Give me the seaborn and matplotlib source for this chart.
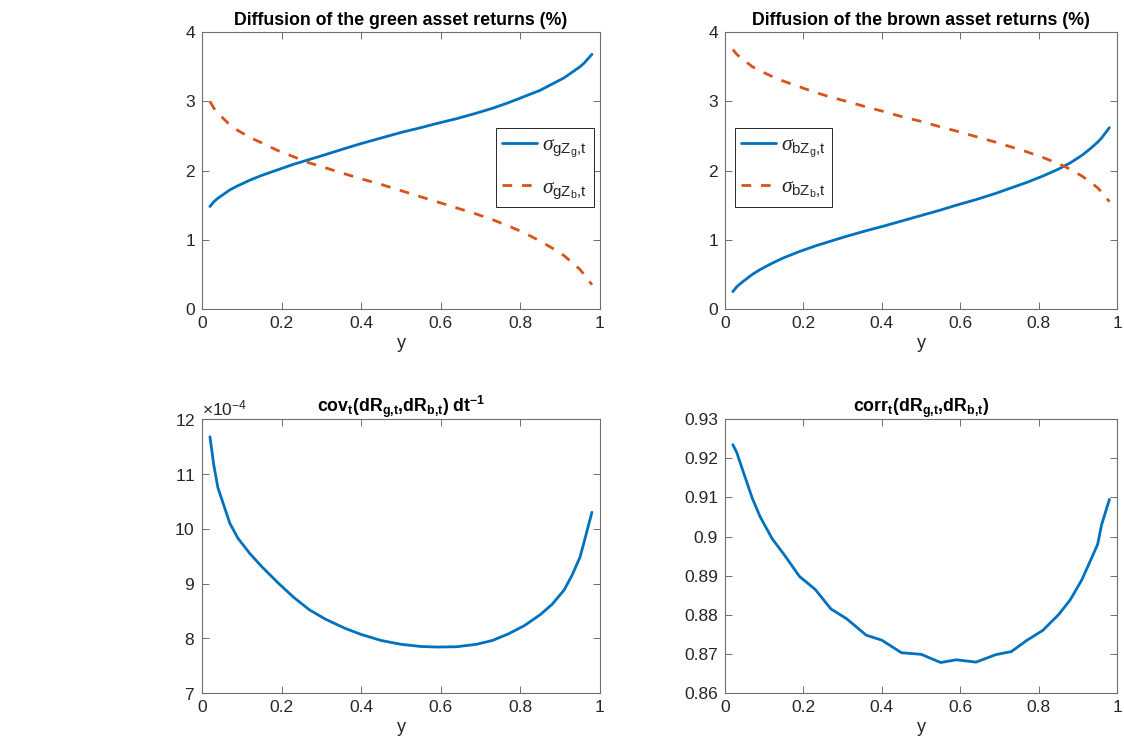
import numpy as np
import pandas as pd
import matplotlib
matplotlib.use("Agg")
import matplotlib.pyplot as plt
from matplotlib.ticker import FuncFormatter, MultipleLocator, ScalarFormatter
import seaborn as sns

# State grid (share of green wealth)
y_grid = [0.02, 0.03, 0.04, 0.07, 0.09, 0.12, 0.15, 0.19, 0.23, 0.27, 0.31, 0.36, 0.40, 0.45,
          0.50, 0.55, 0.59, 0.64, 0.69, 0.73, 0.77, 0.81, 0.85, 0.88, 0.91, 0.93, 0.95, 0.96, 0.98]

# Diffusion loadings of the green asset (%)
sig_g_Zg = [1.48, 1.55, 1.60, 1.72, 1.78, 1.86, 1.93, 2.01, 2.09, 2.16, 2.23, 2.32, 2.39, 2.47,
            2.55, 2.62, 2.68, 2.75, 2.83, 2.90, 2.98, 3.07, 3.16, 3.25, 3.34, 3.42, 3.50, 3.55, 3.68]
sig_g_Zb = [3.00, 2.90, 2.83, 2.66, 2.58, 2.48, 2.40, 2.29, 2.20, 2.11, 2.04, 1.95, 1.88, 1.80,
            1.71, 1.62, 1.55, 1.46, 1.37, 1.29, 1.20, 1.10, 0.98, 0.88, 0.77, 0.67, 0.57, 0.50, 0.35]

# Diffusion loadings of the brown asset (%)
sig_b_Zg = [0.25, 0.32, 0.37, 0.50, 0.57, 0.66, 0.74, 0.83, 0.91, 0.98, 1.05, 1.13, 1.19, 1.27,
            1.35, 1.43, 1.50, 1.58, 1.67, 1.75, 1.83, 1.92, 2.02, 2.11, 2.22, 2.31, 2.41, 2.47, 2.62]
sig_b_Zb = [3.75, 3.68, 3.63, 3.50, 3.44, 3.36, 3.29, 3.21, 3.13, 3.06, 3.00, 2.92, 2.86, 2.78,
            2.71, 2.63, 2.57, 2.49, 2.41, 2.34, 2.27, 2.19, 2.10, 2.02, 1.92, 1.84, 1.75, 1.69, 1.55]

# Instantaneous covariance and correlation of returns
cov_gb = [11.68e-4, 11.15e-4, 10.75e-4, 10.10e-4, 9.83e-4, 9.55e-4, 9.31e-4, 9.02e-4, 8.75e-4,
          8.52e-4, 8.35e-4, 8.18e-4, 8.07e-4, 7.96e-4, 7.89e-4, 7.85e-4, 7.84e-4, 7.845e-4,
          7.89e-4, 7.96e-4, 8.08e-4, 8.23e-4, 8.43e-4, 8.62e-4, 8.88e-4, 9.15e-4, 9.48e-4,
          9.75e-4, 10.30e-4]
corr_gb = [0.9235, 0.9215, 0.9185, 0.9097, 0.9050, 0.8995, 0.8955, 0.8898, 0.8865, 0.8815,
           0.8790, 0.8748, 0.8735, 0.8703, 0.8699, 0.8678, 0.8685, 0.8679, 0.8698, 0.8706,
           0.8735, 0.8760, 0.8800, 0.8838, 0.8890, 0.8935, 0.8980, 0.9030, 0.9095]

x_ticks = [0, 0.2, 0.4, 0.6, 0.8, 1]

sns.set_theme(style="white")
plt.rcParams["font.family"] = ["Liberation Sans", "DejaVu Sans"]
plt.rcParams["mathtext.fontset"] = "custom"
plt.rcParams["mathtext.rm"] = "Liberation Sans"
plt.rcParams["mathtext.it"] = "Liberation Serif:italic"
plt.rcParams["mathtext.bf"] = "Liberation Sans:bold"

BLUE = "#0072BD"
ORANGE = "#D95319"
AXC = "#262626"
TITLE_FS = 12.8

fig = plt.figure(figsize=(11.24, 7.48), dpi=100)
ax_tl = fig.add_axes([0.1797, 0.587, 0.354, 0.370])
ax_tr = fig.add_axes([0.645, 0.587, 0.349, 0.370])
ax_bl = fig.add_axes([0.1797, 0.0735, 0.354, 0.366])
ax_br = fig.add_axes([0.645, 0.0735, 0.349, 0.366])

gfmt = FuncFormatter(lambda v, p: f"{v:g}")


def style_axes(ax):
    ax.set_xlim(0, 1)
    ax.set_xticks(x_ticks)
    ax.xaxis.set_major_formatter(gfmt)
    for s in ax.spines.values():
        s.set_visible(True)
        s.set_color("#6e6e6e")
        s.set_linewidth(0.8)
    ax.tick_params(axis="both", which="major", direction="in", length=5, width=0.7,
                   color="#6e6e6e", labelsize=12.5, labelcolor=AXC,
                   top=True, right=True, bottom=True, left=True, pad=5)
    ax.set_xlabel("y", fontsize=13, color=AXC, labelpad=3)
    ax.set_ylabel("")
    ax.grid(False)


def legend(ax, anchor):
    leg = ax.legend(loc="upper left", bbox_to_anchor=anchor, fontsize=15.5,
                    frameon=True, fancybox=False, framealpha=1, edgecolor=AXC,
                    handlelength=1.6, handletextpad=0.25, borderpad=0.3,
                    labelspacing=0.75, borderaxespad=0)
    leg.get_frame().set_linewidth(0.7)


# Green asset diffusion
df_g = pd.DataFrame({"y": y_grid, "zg": sig_g_Zg, "zb": sig_g_Zb})
sns.lineplot(data=df_g, x="y", y="zg", ax=ax_tl, color=BLUE, linewidth=2,
             label=r"$\sigma_{\mathrm{gZ_g{,}t}}$")
sns.lineplot(data=df_g, x="y", y="zb", ax=ax_tl, color=ORANGE, linewidth=2,
             linestyle=(0, (3.5, 3.5)), label=r"$\sigma_{\mathrm{gZ_b{,}t}}$")
ax_tl.set_ylim(0, 4)
ax_tl.set_yticks([0, 1, 2, 3, 4])
ax_tl.yaxis.set_major_formatter(gfmt)
ax_tl.set_title("Diffusion of the green asset returns (%)", fontsize=TITLE_FS,
                fontweight="bold", color="black", pad=5)
style_axes(ax_tl)
legend(ax_tl, (0.739, 0.652))

# Brown asset diffusion
df_b = pd.DataFrame({"y": y_grid, "zg": sig_b_Zg, "zb": sig_b_Zb})
sns.lineplot(data=df_b, x="y", y="zg", ax=ax_tr, color=BLUE, linewidth=2,
             label=r"$\sigma_{\mathrm{bZ_g{,}t}}$")
sns.lineplot(data=df_b, x="y", y="zb", ax=ax_tr, color=ORANGE, linewidth=2,
             linestyle=(0, (3.5, 3.5)), label=r"$\sigma_{\mathrm{bZ_b{,}t}}$")
ax_tr.set_ylim(0, 4)
ax_tr.set_yticks([0, 1, 2, 3, 4])
ax_tr.yaxis.set_major_formatter(gfmt)
ax_tr.set_title("Diffusion of the brown asset returns (%)", fontsize=TITLE_FS,
                fontweight="bold", color="black", pad=5)
style_axes(ax_tr)
legend(ax_tr, (0.025, 0.652))

# Covariance (axis scaled by 1e-4)
df_c = pd.DataFrame({"y": y_grid, "cov": cov_gb, "corr": corr_gb})
sns.lineplot(data=df_c, x="y", y="cov", ax=ax_bl, color=BLUE, linewidth=2)
ax_bl.set_ylim(7e-4, 12e-4)
ax_bl.set_yticks([7e-4, 8e-4, 9e-4, 10e-4, 11e-4, 12e-4])
sfmt = ScalarFormatter(useMathText=True)
sfmt.set_powerlimits((-4, -4))
ax_bl.yaxis.set_major_formatter(sfmt)
ax_bl.set_title(r"$\mathbf{cov_t(dR_{g{,}t}{,}dR_{b{,}t})\ dt^{-1}}$", fontsize=TITLE_FS,
                color="black", pad=5)
style_axes(ax_bl)
ax_bl.yaxis.get_offset_text().set_fontsize(12.5)
ax_bl.yaxis.get_offset_text().set_color(AXC)

# Correlation
sns.lineplot(data=df_c, x="y", y="corr", ax=ax_br, color=BLUE, linewidth=2)
ax_br.set_ylim(0.86, 0.93)
ax_br.yaxis.set_major_locator(MultipleLocator(0.01))
ax_br.yaxis.set_major_formatter(FuncFormatter(lambda v, p: f"{round(v, 4):g}"))
ax_br.set_title(r"$\mathbf{corr_t(dR_{g{,}t}{,}dR_{b{,}t})}$", fontsize=TITLE_FS,
                color="black", pad=5)
style_axes(ax_br)

fig.savefig("out.png", dpi=100)
